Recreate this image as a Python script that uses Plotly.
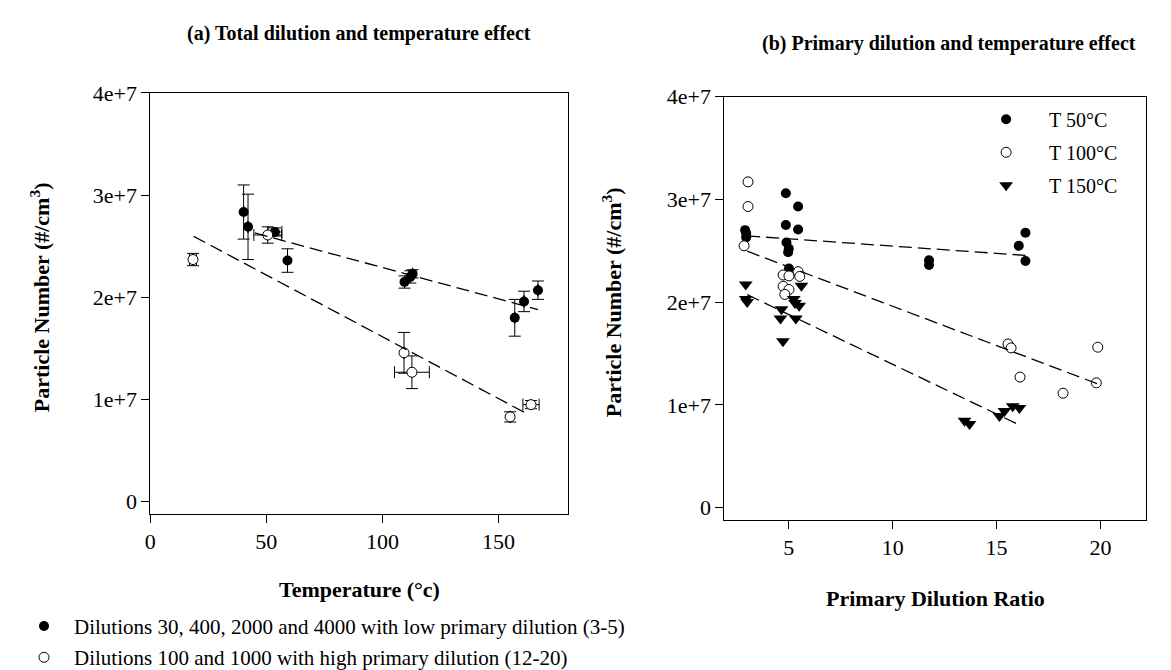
import plotly.graph_objects as go

# ---------------- data : panel (a) ----------------
temp_low = [40.2, 42.1, 53.7, 59.1, 109.5, 112.0, 113.0, 157.0, 161.0, 167.0]
pn_low = [2.835e7, 2.69e7, 2.64e7, 2.36e7, 2.15e7, 2.20e7, 2.23e7, 1.80e7, 1.96e7, 2.07e7]
pn_low_err = [0.265e7, 0.32e7, 0.04e7, 0.115e7, 0.06e7, 0.06e7, 0.04e7, 0.18e7, 0.10e7, 0.09e7]
temp_low_err = [0, 0, 3.0, 0, 0, 0, 0, 0, 0, 0]

temp_high = [18.4, 50.6, 109.3, 112.7, 155.0, 164.0]
pn_high = [2.37e7, 2.61e7, 1.457e7, 1.267e7, 0.83e7, 0.95e7]
pn_high_err = [0.06e7, 0.08e7, 0.20e7, 0.16e7, 0.05e7, 0.04e7]
temp_high_err = [1.5, 6.0, 0, 7.5, 0, 3.5]

fit_low_x = [45.0, 167.0]
fit_low_y = [2.63e7, 1.88e7]
fit_high_x = [18.7, 163.0]
fit_high_y = [2.597e7, 0.852e7]

# ---------------- data : panel (b) ----------------
dr_50 = [2.90, 2.95, 2.95, 4.86, 5.45, 4.86, 5.45, 4.89, 4.97, 5.00, 5.01, 11.75, 11.75, 16.07, 16.39, 16.39]
pn_50 = [2.70e7, 2.67e7, 2.63e7, 3.06e7, 2.93e7, 2.75e7, 2.706e7, 2.58e7, 2.485e7, 2.52e7, 2.327e7,
         2.406e7, 2.36e7, 2.548e7, 2.675e7, 2.40e7]

dr_100 = [3.04, 3.04, 2.85, 4.73, 5.45, 5.01, 4.73, 5.01, 4.81, 5.53,
          15.55, 15.70, 19.87, 16.13, 18.20, 19.80]
pn_100 = [3.17e7, 2.93e7, 2.548e7, 2.264e7, 2.296e7, 2.255e7, 2.154e7, 2.122e7, 2.075e7, 2.25e7,
          1.592e7, 1.554e7, 1.561e7, 1.27e7, 1.113e7, 1.214e7]

dr_150 = [2.93, 2.93, 3.00, 5.61, 5.24, 5.50, 4.65, 4.60, 5.34, 4.72, 5.30,
          13.46, 13.70, 15.14, 15.38, 15.78, 16.10]
pn_150 = [2.17e7, 2.03e7, 2.00e7, 2.16e7, 2.03e7, 1.965e7, 1.93e7, 1.84e7, 1.84e7, 1.62e7, 1.99e7,
          0.845e7, 0.814e7, 0.892e7, 0.94e7, 0.987e7, 0.97e7]

fit_50_x = [3.0, 16.4]
fit_50_y = [2.644e7, 2.454e7]
fit_100_x = [3.0, 20.0]
fit_100_y = [2.495e7, 1.194e7]
fit_150_x = [3.0, 16.1]
fit_150_y = [2.072e7, 0.804e7]

# ---------------- ticks / labels ----------------
y_tickvals = [0, 1e7, 2e7, 3e7, 4e7]
y_ticktext = ["0", "1e+7", "2e+7", "3e+7", "4e+7"]
temp_ticks = [0, 50, 100, 150]
dr_ticks = [5, 10, 15, 20]

title_a = "(a) Total dilution and temperature effect"
title_b = "(b) Primary dilution and temperature effect"
xtitle_a = "Temperature (°c)"
xtitle_b = "Primary Dilution Ratio"
ytitle = "Particle Number (#/cm<sup>3</sup>)"
name_low = "Dilutions 30, 400, 2000 and 4000 with low primary dilution (3-5)"
name_high = "Dilutions 100 and 1000 with high primary dilution (12-20)"
name_50 = "T 50°C"
name_100 = "T 100°C"
name_150 = "T 150°C"

FONT = "Liberation Serif, Times New Roman, serif"
W, H = 1171, 670

fig = go.Figure()

err_style = dict(color="black", thickness=1, width=6)
dash_style = dict(color="black", width=1.3, dash="13px,6px")

# panel (a)
fig.add_trace(go.Scatter(
    x=temp_low, y=pn_low, mode="markers", name=name_low,
    marker=dict(symbol="circle", size=10, color="black"),
    error_y=dict(type="data", array=pn_low_err, **err_style),
    error_x=dict(type="data", array=temp_low_err, **err_style),
    xaxis="x", yaxis="y", legend="legend2", legendgroup="g1"))
fig.add_trace(go.Scatter(
    x=temp_high, y=pn_high, mode="markers", name=name_high,
    marker=dict(symbol="circle", size=10, color="white", line=dict(color="black", width=1)),
    error_y=dict(type="data", array=pn_high_err, **err_style),
    error_x=dict(type="data", array=temp_high_err, **err_style),
    xaxis="x", yaxis="y", legend="legend2", legendgroup="g2"))
for fx, fy in [(fit_low_x, fit_low_y), (fit_high_x, fit_high_y)]:
    fig.add_trace(go.Scatter(x=fx, y=fy, mode="lines", showlegend=False, line=dash_style,
                             xaxis="x", yaxis="y"))

# panel (b)
fig.add_trace(go.Scatter(
    x=dr_50, y=pn_50, mode="markers", name=name_50,
    marker=dict(symbol="circle", size=10, color="black"),
    xaxis="x2", yaxis="y2", legendgroup="h1"))
fig.add_trace(go.Scatter(
    x=dr_100, y=pn_100, mode="markers", name=name_100,
    marker=dict(symbol="circle", size=10, color="white", line=dict(color="black", width=1)),
    xaxis="x2", yaxis="y2", legendgroup="h2"))
fig.add_trace(go.Scatter(
    x=dr_150, y=pn_150, mode="markers", name=name_150,
    marker=dict(symbol="triangle-down", size=12, color="black"),
    xaxis="x2", yaxis="y2", legendgroup="h3"))
for fx, fy in [(fit_50_x, fit_50_y), (fit_100_x, fit_100_y), (fit_150_x, fit_150_y)]:
    fig.add_trace(go.Scatter(x=fx, y=fy, mode="lines", showlegend=False, line=dash_style,
                             xaxis="x2", yaxis="y2"))

axis_common = dict(showgrid=False, zeroline=False, showline=True, linecolor="black",
                   linewidth=1, mirror=True, ticks="outside", ticklen=8, tickcolor="black",
                   tickfont=dict(family=FONT, size=22, color="black"))

fig.update_layout(
    width=W, height=H, paper_bgcolor="white", plot_bgcolor="white",
    margin=dict(l=0, r=0, t=0, b=0),
    xaxis=dict(domain=[137 / W, 557 / W], range=[0, 180], tickvals=temp_ticks, anchor="y", **axis_common),
    yaxis=dict(domain=[1 - 507.6 / H, 1 - 75 / H], range=[-0.12e7, 4e7], tickvals=y_tickvals,
               ticktext=y_ticktext, anchor="x", **axis_common),
    xaxis2=dict(domain=[714 / W, 1138 / W], range=[1.9, 22.2], tickvals=dr_ticks, anchor="y2", **axis_common),
    yaxis2=dict(domain=[1 - 513.7 / H, 1 - 78.7 / H], range=[-0.12e7, 4e7], tickvals=y_tickvals,
                ticktext=y_ticktext, anchor="x2", **axis_common),
    legend=dict(x=954 / W, y=1 - 82 / H, xanchor="left", yanchor="top", bgcolor="rgba(0,0,0,0)",
                font=dict(family=FONT, size=20, color="black"), tracegroupgap=4, itemwidth=76),
    legend2=dict(x=0.0, y=1 - 602 / H, xanchor="left", yanchor="top", bgcolor="rgba(0,0,0,0)",
                 font=dict(family=FONT, size=21, color="black"), tracegroupgap=1, itemwidth=50),
    showlegend=True,
)

ann_font_b = dict(family=FONT, size=22, color="black")
title_font = dict(family=FONT, size=20, color="black")
annotations = [
    dict(text="<b>" + title_a + "</b>", x=347 / W, y=1 - 14 / H, font=title_font),
    dict(text="<b>" + title_b + "</b>", x=940 / W, y=1 - 24 / H, font=title_font),
    dict(text="<b>" + xtitle_a + "</b>", x=347 / W, y=1 - 585 / H, font=ann_font_b),
    dict(text="<b>" + xtitle_b + "</b>", x=926 / W, y=1 - 594 / H, font=ann_font_b),
    dict(text="<b>" + ytitle + "</b>", x=26 / W, y=1 - 285 / H, textangle=-90, font=ann_font_b),
    dict(text="<b>" + ytitle + "</b>", x=601 / W, y=1 - 290 / H, textangle=-90, font=ann_font_b),
]
for a in annotations:
    a.update(xref="paper", yref="paper", showarrow=False, xanchor="center", yanchor="middle")
fig.update_layout(annotations=annotations)

fig.write_html("out.html")
